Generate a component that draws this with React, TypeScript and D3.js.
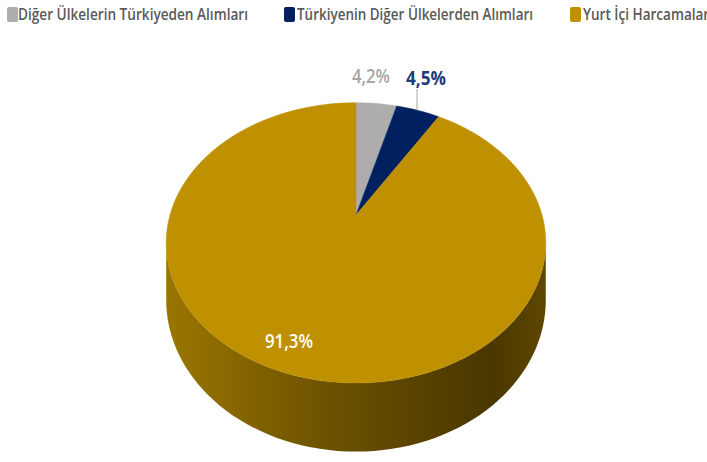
import React from "react";
import * as d3 from "d3";

const categories = [
  "Diğer Ülkelerin Türkiyeden Alımları",
  "Türkiyenin Diğer Ülkelerden Alımları",
  "Yurt İçi Harcamaları",
];
const values = [4.2, 4.5, 91.3];
const colors = ["#AEACAC", "#002060", "#BF9000"];
const labelColors = ["#A6A6A6", "#1F3A7A", "#FFFFFF"];

const W = 707;
const H = 462;

// perspective pie geometry
const CX = 356;
const CY = 215;
const A = 186;
const B = 134.6;
const K = 0.1987;
const DEPTH = 55;

function proj(theta: number, r: number, drop: number): [number, number] {
  const u = r * Math.sin(theta);
  const v = -r * Math.cos(theta);
  const den = 1 - K * v;
  return [CX + (A * u) / den, CY + (B * v + drop) / den];
}

function rimPoints(a0: number, a1: number, drop: number, n = 160): [number, number][] {
  const pts: [number, number][] = [];
  const steps = Math.max(4, Math.ceil((Math.abs(a1 - a0) / (2 * Math.PI)) * n));
  for (let i = 0; i <= steps; i++) {
    const t = a0 + ((a1 - a0) * i) / steps;
    pts.push(proj(t, 1, drop));
  }
  return pts;
}

const legendX = [[7, 18, 230], [284, 297, 236], [570, 583, 130]];
const labelPos = [
  { x: 371, y: 83, w: 38, weight: 600 },
  { x: 426, y: 85, w: 40, weight: 700 },
  { x: 289, y: 348, w: 48, weight: 600 },
];

export default function App() {
  const pie = d3.pie<number>().sort(null).startAngle(0).endAngle(2 * Math.PI);
  const arcs = pie(values);
  const line = d3.line();

  const tL = Math.acos(-K); // right silhouette
  const tR = 2 * Math.PI - tL; // left silhouette
  const top = rimPoints(tL, tR, 0);
  const bot = rimPoints(tR, tL, DEPTH);
  const sidePath = line([...top, ...bot])! + "Z";

  const fmt = (v: number) => v.toFixed(1).replace(".", ",") + "%";

  return (
    <svg
      width={W}
      height={H}
      style={{ position: "absolute", left: 0, top: 0, background: "#fff" }}
      fontFamily="'Open Sans', sans-serif"
    >
      <defs>
        <linearGradient id="side" x1="165" y1="0" x2="547" y2="0" gradientUnits="userSpaceOnUse">
          <stop offset="0" stopColor="#9A7600" />
          <stop offset="0.45" stopColor="#6A5000" />
          <stop offset="0.85" stopColor="#4A3700" />
          <stop offset="1" stopColor="#5E4700" />
        </linearGradient>
      </defs>

      {categories.map((c, i) => (
        <g key={c}>
          <rect x={legendX[i][0]} y={7} width={11} height={15} rx={2} fill={colors[i]} />
          <text
            x={legendX[i][1]}
            y={20}
            fontSize={17}
            fontWeight={600}
            fill="#595959"
            textLength={legendX[i][2]}
            lengthAdjust="spacingAndGlyphs"
          >
            {c}
          </text>
        </g>
      ))}

      <path d={sidePath} fill="url(#side)" />

      {arcs.map((a, i) => {
        const pts: [number, number][] = [[CX, CY], ...rimPoints(a.startAngle, a.endAngle, 0)];
        return <path key={i} d={line(pts)! + "Z"} fill={colors[i]} stroke={colors[i]} strokeWidth={0.5} />;
      })}

      <line x1={417} y1={89} x2={417} y2={110} stroke="#A6A6A6" strokeWidth={1} />

      {arcs.map((a, i) => (
        <text
          key={i}
          x={labelPos[i].x}
          y={labelPos[i].y}
          textAnchor="middle"
          fontSize={20}
          fontWeight={labelPos[i].weight}
          fill={labelColors[i]}
          textLength={labelPos[i].w}
          lengthAdjust="spacingAndGlyphs"
        >
          {fmt(a.data)}
        </text>
      ))}
    </svg>
  );
}
